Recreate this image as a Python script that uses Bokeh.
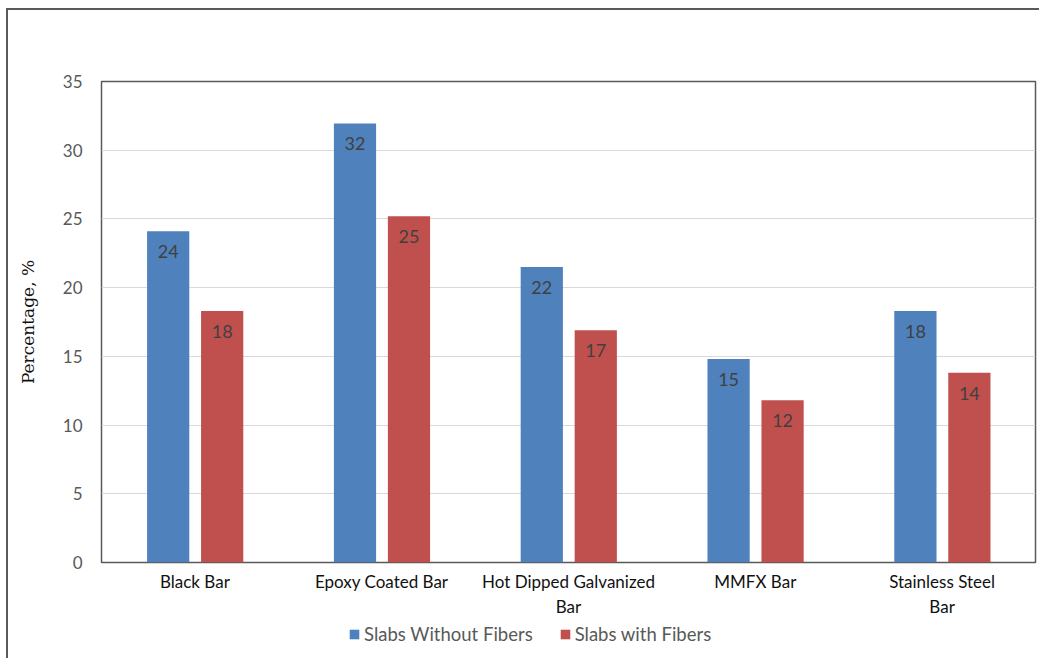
from bokeh.plotting import figure
from bokeh.layouts import column
from bokeh.models import ColumnDataSource, Range1d, FactorRange, Legend, LegendItem, LabelSet, FixedTicker
from bokeh.core.properties import value
from bokeh.transform import dodge
from bokeh.embed import file_html
from bokeh.resources import INLINE

categories = ["Black Bar", "Epoxy Coated Bar", "Hot Dipped Galvanized\nBar", "MMFX Bar", "Stainless Steel\nBar"]
without_fibers = [24.1, 31.95, 21.5, 14.8, 18.3]
with_fibers = [18.3, 25.2, 16.9, 11.8, 13.8]
labels_without = ["24", "32", "22", "15", "18"]
labels_with = ["18", "25", "17", "12", "14"]
series_names = ["Slabs Without Fibers", "Slabs with Fibers"]
y_ticks = [0, 5, 10, 15, 20, 25, 30, 35]

BLUE = "#4F81BD"
RED = "#C0504D"
FONT = "Lato"

src = ColumnDataSource(dict(cats=categories, wo=without_fibers, wf=with_fibers,
                            lwo=labels_without, lwf=labels_with))

p = figure(width=1039, height=622, x_range=FactorRange(*categories, range_padding=0),
           y_range=Range1d(0, 35), output_backend="svg", toolbar_location=None,
           min_border_left=101, min_border_right=4, min_border_top=81, min_border_bottom=60)

p.outline_line_color = "#595959"
p.outline_line_width = 1.5
p.background_fill_color = "white"
p.border_fill_color = None

r1 = p.vbar(x=dodge("cats", -0.143, range=p.x_range), top="wo", width=0.226, source=src,
            fill_color=BLUE, line_color=None)
r2 = p.vbar(x=dodge("cats", 0.146, range=p.x_range), top="wf", width=0.226, source=src,
            fill_color=RED, line_color=None)

for xo, col, lab in [(-0.143, "wo", "lwo"), (0.146, "wf", "lwf")]:
    ls = LabelSet(x=dodge("cats", xo, range=p.x_range), y=col, text=lab, source=src,
                  text_align="center", text_baseline="top", y_offset=-14,
                  text_font=value(FONT), text_font_size=value("18px"), text_color=value("#404040"))
    p.add_layout(ls)

p.xgrid.grid_line_color = None
p.ygrid.grid_line_color = "#D9D9D9"
p.ygrid.grid_line_width = 1
p.yaxis.ticker = FixedTicker(ticks=y_ticks)

for ax in (p.xaxis[0], p.yaxis[0]):
    ax.axis_line_color = None
    ax.major_tick_line_color = None
    ax.minor_tick_line_color = None

p.yaxis.major_label_text_font = FONT
p.yaxis.major_label_text_font_size = "17px"
p.yaxis.major_label_text_color = "#595959"
p.yaxis.major_label_standoff = 13
p.yaxis.axis_label = "Percentage, %"
p.yaxis.axis_label_text_font = "DejaVu Serif"
p.yaxis.axis_label_text_font_style = "normal"
p.yaxis.axis_label_text_font_size = "17px"
p.yaxis.axis_label_text_color = "#111111"
p.yaxis.axis_label_standoff = 22

p.xaxis.major_label_text_font = FONT
p.xaxis.major_label_text_font_size = "17px"
p.xaxis.major_label_text_color = "#111111"
p.xaxis.major_label_standoff = 2

# legend strip below the chart (swatch renderers carry no visible data)
lg = figure(width=1039, height=36, x_range=Range1d(0, 1), y_range=Range1d(0, 1),
            output_backend="svg", toolbar_location=None, min_border=0)
lg.xaxis.visible = False
lg.yaxis.visible = False
lg.grid.visible = False
lg.outline_line_color = None
lg.background_fill_color = None
lg.border_fill_color = None
e1 = lg.vbar(x=[0.5], top=[0], width=0.0, fill_color=BLUE, line_color=None)
e2 = lg.vbar(x=[0.5], top=[0], width=0.0, fill_color=RED, line_color=None)
legend = Legend(items=[LegendItem(label=series_names[0], renderers=[e1]),
                       LegendItem(label=series_names[1], renderers=[e2])],
                orientation="horizontal", location=(247, 13),
                label_text_font=FONT, label_text_font_size="18.5px", label_text_color="#595959",
                glyph_width=12, glyph_height=12, label_standoff=4, spacing=26,
                padding=0, margin=0, border_line_color=None, background_fill_alpha=0)
lg.add_layout(legend)

layout = column(p, lg, spacing=0)
layout.styles = {"box-shadow": "inset 6px 8px 0 0 #ffffff, inset 8px 10px 0 0 #595959"}

open("out.html", "w").write(file_html(layout, INLINE))
